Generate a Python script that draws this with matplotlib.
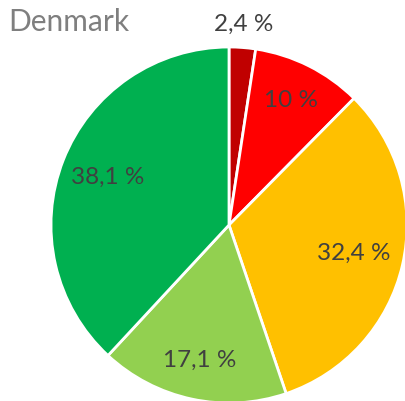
import numpy as np
import matplotlib.pyplot as plt

title = "Denmark"
shares = [2.4, 10.0, 32.4, 17.1, 38.1]
labels = ["2,4 %", "10 %", "32,4 %", "17,1 %", "38,1 %"]
colors = ["#C00000", "#FF0000", "#FFC000", "#92D050", "#00B050"]

plt.rcParams['font.family'] = ['Lato', 'DejaVu Sans']

fig = plt.figure(figsize=(4.05, 4.01), dpi=100)
ax = fig.add_axes([51 / 405, -2 / 401, 356 / 405, 356 / 401])

wedges, _ = ax.pie(shares, colors=colors, startangle=90, counterclock=False,
                   wedgeprops=dict(edgecolor="white", linewidth=2))

# label distance from centre, per slice (first one sits outside)
dists = [1.13, 0.78, 0.72, 0.78, 0.73]
for w, lab, d in zip(wedges, labels, dists):
    ang = np.deg2rad((w.theta1 + w.theta2) / 2)
    ax.text(d * np.cos(ang), d * np.sin(ang), lab, ha="center", va="center",
            fontsize=17.5, color="#404040")

ax.set_xlim(-1, 1)
ax.set_ylim(-1, 1)
ax.set_aspect("equal")
ax.axis("off")

fig.text(8 / 405, 1 - 22 / 401, title, ha="left", va="center",
         fontsize=21.5, color="#7F7F7F")

fig.savefig("out.png", dpi=100)
